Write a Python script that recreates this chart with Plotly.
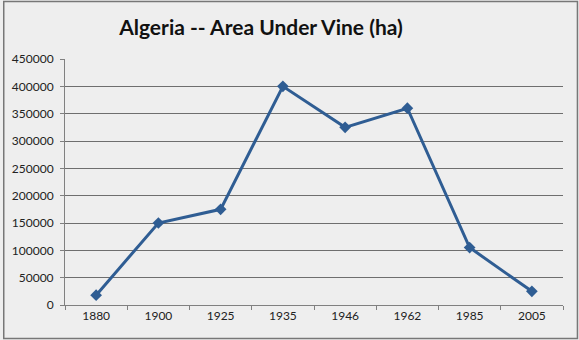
import plotly.graph_objects as go

years = ["1880", "1900", "1925", "1935", "1946", "1962", "1985", "2005"]
area_ha = [18000, 150000, 175000, 400000, 325000, 360000, 105000, 25000]
y_ticks = [0, 50000, 100000, 150000, 200000, 250000, 300000, 350000, 400000, 450000]

W, H = 579, 340
ml, mr, mt, mb = 63, 16, 59, 35
pw, ph = W - ml - mr, H - mt - mb

fig = go.Figure(go.Scatter(
    x=years, y=area_ha, mode="lines+markers",
    line=dict(color="#2f5d93", width=3),
    marker=dict(symbol="diamond", size=9, color="#2f5d93"),
))

fig.update_layout(
    width=W, height=H,
    margin=dict(l=ml, r=mr, t=mt, b=mb),
    paper_bgcolor="#eeeeee", plot_bgcolor="#eeeeee",
    showlegend=False,
    title=dict(text="<b>Algeria -- Area Under Vine (ha)</b>", x=261 / W, xanchor="center",
               y=1 - 28 / H, yanchor="middle",
               font=dict(family="Lato, Open Sans, sans-serif", size=21, color="#111111")),
    font=dict(family="Lato, DejaVu Sans, sans-serif", size=12, color="#222222"),
    xaxis=dict(type="category", tickson="boundaries", ticks="outside", ticklen=4,
               tickcolor="#808080", showline=True, linecolor="#808080", linewidth=1,
               showgrid=False, range=[-0.5, 7.5], tickfont=dict(size=12)),
    yaxis=dict(range=[0, 450000], tickvals=y_ticks, ticktext=[str(v) for v in y_ticks],
               ticks="outside", ticklen=4, tickcolor="#808080", showline=True,
               linecolor="#808080", linewidth=1, gridcolor="#6e6e6e", gridwidth=1,
               zeroline=False, tickfont=dict(size=12), ticklabelstandoff=4),
    shapes=[dict(type="rect", xref="paper", yref="paper",
                 x0=(1.5 - ml) / pw, x1=(W - 1.5 - ml) / pw,
                 y0=(1.5 - mb) / ph, y1=(H - 1.5 - mb) / ph,
                 line=dict(color="#777777", width=1.5), layer="below")],
)

fig.write_html("out.html")
